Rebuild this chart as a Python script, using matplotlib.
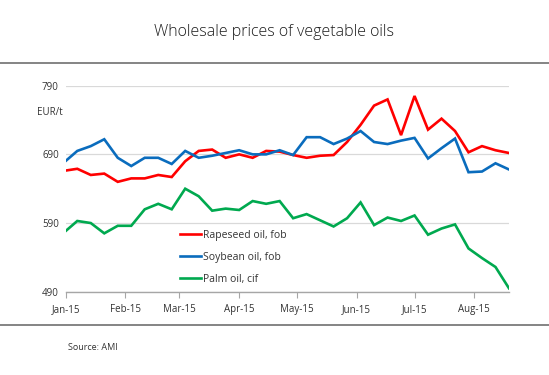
import pandas as pd
import matplotlib.pyplot as plt
import matplotlib.dates as mdates
from matplotlib.lines import Line2D

plt.rcParams['font.family'] = ['Open Sans', 'DejaVu Sans']

# weekly quotes, EUR/t
weeks = pd.date_range('2014-12-31', periods=34, freq='7D')

rapeseed = [666, 669, 660, 662, 650, 655, 655, 660, 657, 680, 695, 697,
            685, 690, 685, 695, 694, 689, 685, 688, 689, 708, 733, 761,
            770, 718, 775, 726, 742, 724, 693, 702, 696, 692]
soybean = [678, 695, 702, 712, 685, 673, 685, 685, 676, 695, 685, 688,
           692, 696, 690, 690, 696, 689, 715, 715, 705, 713, 724, 708,
           705, 710, 714, 684, 699, 713, 664, 665, 677, 668]
palm = [576, 593, 590, 575, 586, 586, 610, 618, 610, 640, 629, 608,
        611, 609, 622, 618, 622, 597, 603, 594, 585, 597, 620, 587,
        598, 593, 601, 573, 582, 588, 553, 539, 526, 495]

series_names = ['Rapeseed oil, fob', 'Soybean oil, fob', 'Palm oil, cif']
series_colors = ['#ff0000', '#0a6cbd', '#00a94f']
y_ticks = [490, 590, 690, 790]
month_ticks = pd.date_range('2015-01-01', periods=8, freq='MS')

fig = plt.figure(figsize=(5.49, 3.75), dpi=100)
ax = fig.add_axes([0.1197, 0.2221, 0.8074, 0.5494])

for vals, name, col in zip([rapeseed, soybean, palm], series_names, series_colors):
    ax.plot(weeks, vals, color=col, linewidth=1.9, label=name, solid_joinstyle='miter')

ax.set_xlim(pd.Timestamp('2015-01-01'), pd.Timestamp('2015-08-19'))
ax.set_ylim(490, 790)
ax.set_yticks(y_ticks)
ax.set_xticks(month_ticks)
ax.xaxis.set_major_formatter(mdates.DateFormatter('%b-%y'))

ax.grid(axis='y', color='#d9d9d9', linewidth=0.9)
ax.set_axisbelow(True)
for s in ['top', 'right', 'left']:
    ax.spines[s].set_visible(False)
ax.spines['bottom'].set_color('#a6a6a6')
ax.spines['bottom'].set_linewidth(1.0)
ax.tick_params(axis='x', length=4, color='#a6a6a6', labelsize=7, labelcolor='#333333', pad=5)
ax.tick_params(axis='y', length=0, labelsize=7, labelcolor='#333333', pad=5)

ax.text(-0.065, 0.86, 'EUR/t', transform=ax.transAxes, fontsize=7, color='#333333', ha='left')

leg = ax.legend(loc='upper left', bbox_to_anchor=(180 / 549, 1 - 230 / 375),
                bbox_transform=fig.transFigure, frameon=False, fontsize=7.5,
                handlelength=2.0, handletextpad=0.2, labelspacing=1.05,
                borderpad=0, borderaxespad=0)
for t in leg.get_texts():
    t.set_color('#333333')

fig.text(0.5, 1 - 32 / 375, 'Wholesale prices of vegetable oils', ha='center', va='center',
         fontsize=11.5, color='#1a1a1a', fontweight='light')
fig.text(68 / 549, 1 - 348 / 375, 'Source: AMI', ha='left', va='center', fontsize=6.5, color='#333333')

fig.add_artist(Line2D([0, 1], [1 - 63 / 375] * 2, color='#707070', linewidth=1.2))
fig.add_artist(Line2D([0, 1], [1 - 325 / 375] * 2, color='#707070', linewidth=1.2))

fig.savefig('out.png', dpi=100)
